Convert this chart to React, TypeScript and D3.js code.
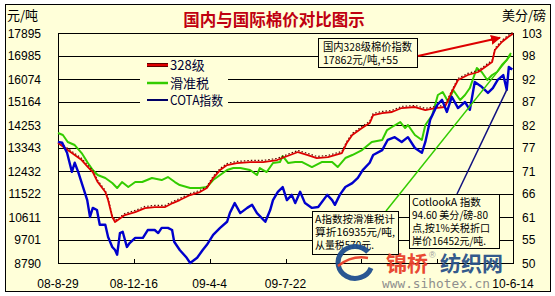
import React from "react";
import * as d3 from "d3";

// ---- data ----
const startDate = new Date(2008, 7, 29);
const endDate = new Date(2010, 5, 14);
const xTickLabels = ["08-8-29", "08-12-16", "09-4-4", "09-7-22", "09-11-8", "10-2-25", "10-6-14"];
const xTickDays = [0, 109, 218, 327, 436, 545, 654];
// labels hidden behind the watermark in the reference
const xLabelHidden = [false, false, false, false, true, true, false];
const leftTicks = [17895, 16985, 16074, 15164, 14253, 13343, 12432, 11522, 10611, 9701, 8790];
const rightTicks = [103, 98, 92, 87, 82, 77, 71, 66, 61, 55, 50];

// 328级 (元/吨), days since 2008-08-29
const redDays = [0, 10, 20, 34, 43, 50, 57, 68, 72, 78, 82, 86, 96, 111, 125, 139, 154, 165, 175, 190, 204, 214, 223, 233, 243, 257, 276, 295, 315, 326, 345, 359, 372, 388, 408, 415, 423, 437, 448, 453, 466, 480, 494, 513, 528, 542, 556, 566, 575, 589, 604, 624, 628, 638, 647, 654];
const redValues = [13539, 13341, 13143, 12866, 12589, 12391, 11995, 11599, 11282, 10609, 10411, 10490, 10688, 10807, 10965, 11005, 11005, 11163, 11282, 11480, 11599, 11757, 12153, 12470, 12668, 12747, 12787, 12787, 12866, 12985, 13183, 13064, 12945, 12985, 13143, 13539, 13856, 14133, 14331, 14648, 14727, 14767, 14925, 14965, 14846, 14925, 14965, 15559, 16034, 16232, 16351, 16747, 17222, 17539, 17737, 17862];

// 滑准税 (元/吨)
const greenDays = [0, 7, 14, 24, 34, 43, 50, 57, 68, 78, 85, 92, 101, 111, 121, 135, 149, 158, 168, 175, 190, 204, 214, 223, 233, 243, 252, 262, 276, 286, 290, 300, 309, 319, 323, 331, 341, 351, 365, 379, 394, 402, 413, 423, 437, 451, 466, 473, 480, 492, 499, 503, 513, 523, 528, 538, 546, 553, 561, 568, 578, 585, 592, 602, 609, 617, 624, 631, 638, 645, 651];
const greenValues = [13935, 13856, 13579, 13460, 13143, 12747, 12470, 12272, 12153, 11955, 11757, 11995, 11797, 11995, 11995, 12153, 12074, 12193, 11995, 11876, 11757, 11757, 11797, 12074, 12272, 12470, 12549, 12549, 12470, 12272, 12549, 12391, 12747, 12787, 13024, 12747, 12787, 12787, 12589, 12787, 12787, 12589, 12945, 13064, 13262, 13579, 13658, 14054, 14173, 14371, 14133, 14252, 13856, 13658, 14252, 14648, 15440, 15559, 15163, 15638, 15242, 15440, 15717, 16509, 16351, 16034, 16232, 16351, 16628, 16826, 17103];

// COTA指数 (美分/磅)
const blueDays = [0, 6, 13, 20, 24, 29, 36, 42, 46, 50, 56, 60, 68, 72, 78, 82, 85, 89, 93, 99, 103, 111, 122, 129, 139, 144, 149, 158, 164, 167, 175, 185, 190, 200, 208, 214, 223, 233, 243, 247, 254, 262, 272, 279, 286, 298, 305, 309, 316, 323, 329, 336, 341, 348, 355, 365, 374, 387, 394, 398, 405, 413, 423, 431, 438, 448, 453, 466, 474, 484, 494, 503, 513, 523, 528, 535, 545, 552, 559, 566, 575, 585, 592, 599, 609, 618, 625, 632, 640, 645, 648, 653];
const blueValues = [77.9, 77.7, 75.4, 71.0, 73.1, 71.0, 67.5, 64.5, 60.6, 62.7, 62.2, 58.8, 58.8, 56.0, 53.7, 53.0, 51.9, 56.9, 57.2, 53.7, 54.6, 55.8, 55.8, 57.6, 57.6, 56.9, 58.1, 58.1, 57.6, 54.9, 53.0, 51.2, 50.0, 51.2, 53.0, 54.2, 56.5, 58.1, 59.5, 61.5, 63.8, 61.5, 62.7, 63.4, 61.5, 59.5, 62.2, 64.5, 66.4, 67.5, 64.5, 65.7, 63.8, 66.4, 63.8, 62.7, 62.9, 65.7, 64.5, 63.4, 65.7, 67.5, 68.4, 69.6, 71.4, 73.1, 74.9, 76.0, 78.4, 79.0, 77.9, 79.0, 76.5, 75.4, 77.9, 83.0, 86.4, 87.6, 84.8, 88.3, 85.7, 87.1, 85.3, 91.7, 90.6, 89.2, 90.3, 92.2, 93.3, 89.9, 95.2, 94.6];

const legendLabels = ["328级", "滑准税", "COTA指数"];
const titleText = "国内与国际棉价对比图示";
const redNote = ["国内328级棉价指数", "17862元/吨,+55"];
const aNote = ["A指数按滑准税计", "算折16935元/吨,", "从量税570元."];
const cotNote = ["CotlookA 指数", "94.60 美分/磅-80", "点,按1%关税折口", "岸价16452元/吨."];

const BG = "#FFFFD9";
const RED = "#DD0000";
const GREEN = "#33CC00";
const BLUE = "#0000CC";
const CJK = "'Noto Sans CJK SC', 'Liberation Sans', sans-serif";
const NUM = "'Liberation Sans', Arial, sans-serif";

export default function App() {
  const L = 58, R = 513, T = 33, B = 263;
  const x = d3.scaleTime().domain([startDate, endDate]).range([L, R]);
  const yL = d3.scaleLinear().domain([8790, 17895]).range([B, T]);
  const yR = d3.scaleLinear().domain([50, 103]).range([B, T]);
  const dd = (n: number) => d3.timeDay.offset(startDate, n);

  const mk = (days: number[], vals: number[], ys: d3.ScaleLinear<number, number>, dy = 0) =>
    d3.line<number>().x((_, i) => x(dd(days[i]))).y((v) => ys(v) + dy)(vals) || "";

  const redPath = mk(redDays, redValues, yL);
  const redShadow = mk(redDays, redValues, yL, -1.6);
  const greenPath = mk(greenDays, greenValues, yL);
  const bluePath = mk(blueDays, blueValues, yR);

  const endRed: [number, number] = [x(dd(redDays[redDays.length - 1])), yL(redValues[redValues.length - 1])];
  const endGreen: [number, number] = [x(dd(greenDays[greenDays.length - 1])), yL(greenValues[greenValues.length - 1])];
  const endBlue: [number, number] = [x(dd(blueDays[blueDays.length - 3])), yR(blueValues[blueValues.length - 3])];

  return (
    <svg width={555} height={296} style={{ position: "fixed", left: 0, top: 0 }} xmlns="http://www.w3.org/2000/svg">
      <defs>
        <marker id="arrR" viewBox="0 0 10 10" refX="9" refY="5" markerWidth="5" markerHeight="5" orient="auto">
          <path d="M0,0 L10,5 L0,10 z" fill={RED} />
        </marker>
      </defs>
      <rect x={0} y={0} width={555} height={296} fill="#ffffff" />
      <rect x={5.5} y={4.5} width={545} height={287} fill={BG} stroke="#000" strokeWidth={1} />

      {/* title & units */}
      <text x={274} y={26} textAnchor="middle" fontFamily={CJK} fontWeight="bold" fontSize={16.5} fill="#C00010">{titleText}</text>
      <text x={7} y={20} fontFamily={CJK} fontSize={13} fill="#000">元/吨</text>
      <text x={502} y={20} fontFamily={CJK} fontSize={13} fill="#000">美分/磅</text>

      {/* grid */}
      {leftTicks.map((t, i) => (
        <line key={"g" + i} x1={L} x2={R} y1={Math.round(yL(t)) + 0.5} y2={Math.round(yL(t)) + 0.5} stroke="#000" strokeWidth={1} />
      ))}
      <line x1={L + 0.5} x2={L + 0.5} y1={T} y2={B + 1} stroke="#000" />
      <line x1={R + 0.5} x2={R + 0.5} y1={T} y2={B + 1} stroke="#000" />
      {xTickDays.map((d, i) => (
        <line key={"xt" + i} x1={Math.round(x(dd(d))) + 0.5} x2={Math.round(x(dd(d))) + 0.5} y1={B - 4} y2={B} stroke="#000" />
      ))}

      {/* axis labels */}
      {leftTicks.map((t, i) => (
        <text key={"lt" + i} x={41} y={yL(t) + 4.5} textAnchor="end" fontFamily={NUM} fontSize={12} fill="#000">{t}</text>
      ))}
      {rightTicks.map((t, i) => (
        <text key={"rt" + i} x={522} y={yL(leftTicks[i]) + 4.5} fontFamily={NUM} fontSize={12} fill="#000">{t}</text>
      ))}
      {xTickLabels.map((s, i) =>
        xLabelHidden[i] ? null : (
          <text key={"xl" + i} x={x(dd(xTickDays[i]))} y={288} textAnchor="middle" fontFamily={NUM} fontSize={12} fill="#000">{s}</text>
        )
      )}

      {/* legend */}
      <rect x={140} y={59} width={88} height={48} fill={BG} />
      <line x1={147} x2={168} y1={65} y2={65} stroke="#600000" strokeWidth={4} />
      <line x1={147} x2={168} y1={65} y2={65} stroke={RED} strokeWidth={2} />
      <line x1={147} x2={168} y1={83} y2={83} stroke={GREEN} strokeWidth={2.5} />
      <line x1={147} x2={168} y1={100} y2={100} stroke="#000066" strokeWidth={2} />
      <text x={170} y={70} fontFamily={CJK} fontSize={13} fill="#000033">{legendLabels[0]}</text>
      <text x={170} y={88} fontFamily={CJK} fontSize={13} fill="#000033">{legendLabels[1]}</text>
      <text x={170} y={105} fontFamily={CJK} fontSize={13} fill="#000033" textLength={53} lengthAdjust="spacingAndGlyphs">{legendLabels[2]}</text>

      {/* series */}
      <path d={greenPath} fill="none" stroke={GREEN} strokeWidth={2} strokeLinejoin="round" />
      <path d={redShadow} fill="none" stroke="#5a0000" strokeWidth={1.2} strokeDasharray="1.5 2" />
      <path d={redPath} fill="none" stroke={RED} strokeWidth={1.8} strokeLinejoin="round" />
      <path d={bluePath} fill="none" stroke={BLUE} strokeWidth={2.4} strokeLinejoin="round" />

      {/* callouts */}
      <rect x={318.5} y={38.5} width={99} height={29} fill={BG} stroke="#000" />
      <text x={323} y={51} fontFamily={CJK} fontSize={11} textLength={89} lengthAdjust="spacingAndGlyphs">{redNote[0]}</text>
      <text x={323} y={64} fontFamily={CJK} fontSize={11} textLength={75} lengthAdjust="spacingAndGlyphs">{redNote[1]}</text>
      <line x1={418} y1={56} x2={endRed[0] - 13} y2={endRed[1] + 4} stroke={RED} strokeWidth={2} markerEnd="url(#arrR)" />

      <line x1={386} y1={211} x2={endGreen[0]} y2={endGreen[1] + 2} stroke={GREEN} strokeWidth={1.5} />
      <line x1={457} y1={194} x2={endBlue[0]} y2={endBlue[1]} stroke="#101080" strokeWidth={1.5} />

      <rect x={312.5} y={211.5} width={86} height={43} fill={BG} stroke="#000" />
      {aNote.map((s, i) => (
        <text key={"an" + i} x={315} y={223 + i * 13} fontFamily={CJK} fontSize={10.5} textLength={[80, 80, 59][i]} lengthAdjust="spacingAndGlyphs">{s}</text>
      ))}
      <rect x={409.5} y={194.5} width={90} height={54} fill={BG} stroke="#000" />
      {cotNote.map((s, i) => (
        <text key={"cn" + i} x={412} y={206 + i * 13} fontFamily={CJK} fontSize={10.5} textLength={[69, 76, 78, 74][i]} lengthAdjust="spacingAndGlyphs">{s}</text>
      ))}

      {/* watermark */}
      <g opacity={0.95}>
        <path d="M368,252 A17,16 0 1 0 371,268" fill="none" stroke="#1f4f8f" strokeWidth={5} />
        <path d="M338,266 Q352,255 368,258" fill="none" stroke="#e8402a" strokeWidth={2.5} />
        <text x={386} y={271} fontFamily={CJK} fontWeight="bold" fontSize={21} fill="#e8402a">锦桥</text>
        <text x={429} y={258} fontFamily={NUM} fontSize={9} fill="#999">®</text>
        <text x={440} y={271} fontFamily={CJK} fontWeight="bold" fontSize={21} fill="#2a5288">纺织网</text>
        <text x={382} y={288} fontFamily="'DejaVu Sans Mono', monospace" fontSize={12} fill="#8a8a8a" textLength={108} lengthAdjust="spacingAndGlyphs">www.sihotex.cn</text>
      </g>
    </svg>
  );
}
